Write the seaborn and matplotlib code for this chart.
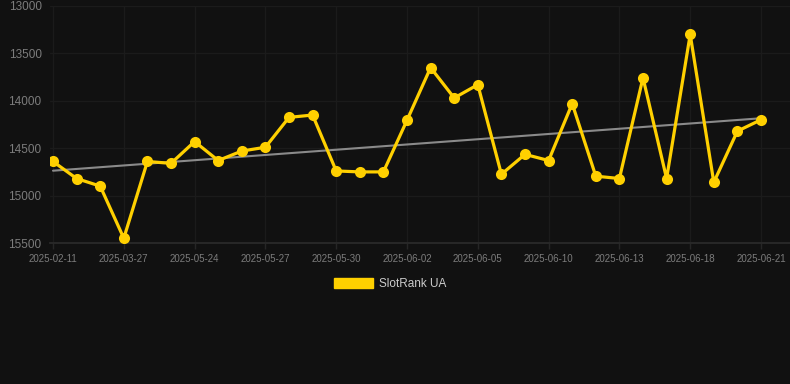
import numpy as np
import pandas as pd
import matplotlib
matplotlib.use("Agg")
import matplotlib.pyplot as plt
import seaborn as sns

# 排名数据（数值越小越好，所以 y 轴反向）
ranks = [14640, 14820, 14900, 15450, 14640, 14660, 14430, 14630, 14530, 14490,
         14175, 14150, 14740, 14750, 14750, 14205, 13650, 13970, 13830, 14775,
         14565, 14630, 14030, 14795, 14820, 13757, 14820, 13300, 14860, 14320,
         14200]
tick_labels = ['2025-02-11', '2025-03-27', '2025-05-24', '2025-05-27', '2025-05-30',
               '2025-06-02', '2025-06-05', '2025-06-10', '2025-06-13', '2025-06-18',
               '2025-06-21']
series_name = 'SlotRank UA'

data = pd.DataFrame({'idx': np.arange(len(ranks)), 'rank': ranks})

bg = '#111111'
gold = '#FFD000'

sns.set_theme(style='dark')
plt.rcParams['font.family'] = ['Liberation Sans', 'DejaVu Sans']

fig = plt.figure(figsize=(7.9, 3.84), dpi=100, facecolor=bg)
ax = fig.add_axes([50 / 790, 1 - 243 / 384, 740 / 790, 237 / 384])
ax.set_facecolor(bg)

# 趋势线
k, b = np.polyfit(data['idx'], data['rank'], 1)
ax.plot(data['idx'], k * data['idx'] + b, color='#8a8a8a', lw=1.5, zorder=2)

sns.lineplot(data=data, x='idx', y='rank', ax=ax, color=gold, lw=2.3,
             marker='o', markersize=8, markeredgewidth=0, zorder=3,
             label=series_name)

ax.set_ylim(15500, 13000)
ax.set_xlim(-3 / 23.6, (790 - 53) / 23.6)
ax.set_yticks([13000, 13500, 14000, 14500, 15000, 15500])
ax.set_xticks(np.arange(0, len(ranks), 3))
ax.set_xticklabels(tick_labels)
ax.set_xlabel('')
ax.set_ylabel('')

ax.grid(True, color='#1b1b1b', lw=1)
for s in ['top', 'right', 'left']:
    ax.spines[s].set_visible(False)
ax.spines['bottom'].set_color('#2b2b2b')
ax.tick_params(axis='y', colors='#7c7c7c', labelsize=8.5, length=0, pad=6)
ax.tick_params(axis='x', colors='#7c7c7c', labelsize=7, length=4, width=1,
               pad=4, color='#262626', bottom=True)

handle = plt.Rectangle((0, 0), 1, 1, color=gold)
ax.legend([handle], [series_name], loc='center', bbox_to_anchor=(390 / 790, 1 - 284 / 384),
          bbox_transform=fig.transFigure, frameon=False, handlelength=3.3,
          handleheight=1.0, handletextpad=0.5, fontsize=8.5, labelcolor='#cccccc')

fig.savefig('out.png', dpi=100, facecolor=bg)
